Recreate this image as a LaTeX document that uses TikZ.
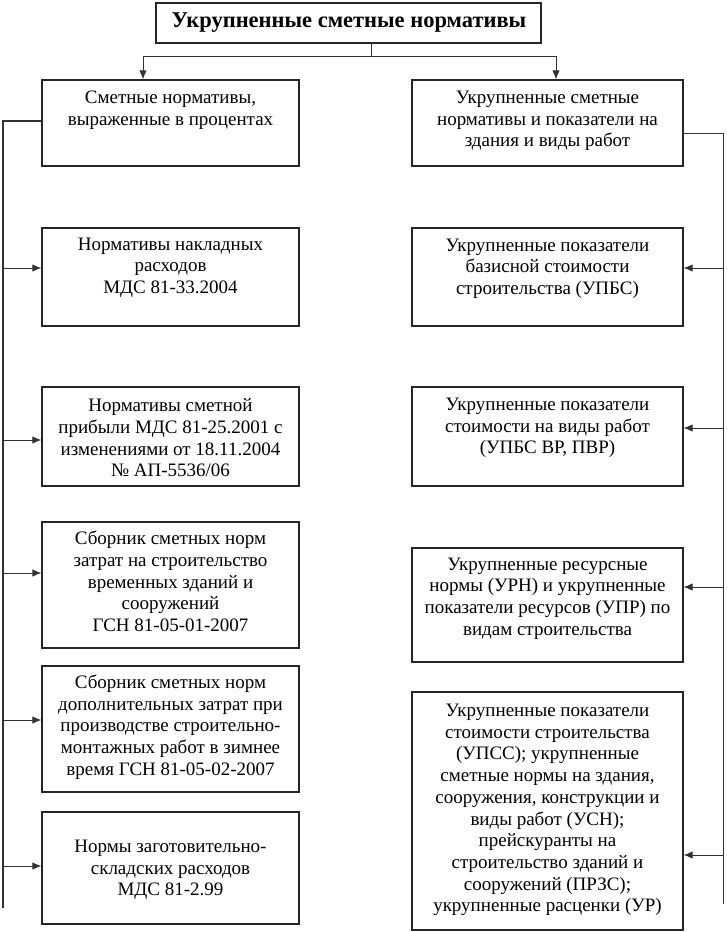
\documentclass[tikz,border=0pt]{standalone}
\usepackage{fontspec}
\setmainfont{Liberation Serif}
\usetikzlibrary{arrows.meta}
\tikzset{
  box/.style={draw=black!85, line width=1.2pt, rectangle, inner sep=0pt},
  txt/.style={align=center, inner sep=0pt, font=\fontsize{19}{21.7}\selectfont},
  ttl/.style={align=center, inner sep=0pt, font=\fontsize{22.5}{24}\selectfont\bfseries},
  conn/.style={draw=black!80, line width=1pt},
  arr/.style={conn, -{Latex[length=9pt,width=7.5pt]}},
}
\begin{document}
\begin{tikzpicture}[x=1pt,y=-1pt]
\useasboundingbox (0,0) rectangle (726,932);
% top
\node[box, minimum width=385pt, minimum height=40pt] (T) at (348.5,23) {};
\node[ttl] (Tt) at (349,23) {Укрупненные сметные нормативы};
% left column
\node[box, minimum width=257pt, minimum height=86pt] (L1) at (170.5,123) {};
\node[txt] (L1t) at (170.5,110.5) {Сметные нормативы,\\выраженные в процентах};
\node[box, minimum width=257pt, minimum height=98pt] (L2) at (170.5,277) {};
\node[txt] (L2t) at (170.5,267.5) {Нормативы накладных\\расходов\\МДС 81-33.2004};
\node[box, minimum width=257pt, minimum height=99pt] (L3) at (170.5,436.5) {};
\node[txt] (L3t) at (170.5,438) {Нормативы сметной\\прибыли МДС 81-25.2001 с\\изменениями от 18.11.2004\\№ АП-5536/06};
\node[box, minimum width=257pt, minimum height=126pt] (L4) at (170.5,585) {};
\node[txt] (L4t) at (170.5,581.5) {Сборник сметных норм\\затрат на строительство\\временных зданий и\\сооружений\\ГСН 81-05-01-2007};
\node[box, minimum width=257pt, minimum height=126pt] (L5) at (170.5,729) {};
\node[txt] (L5t) at (170.5,727) {Сборник сметных норм\\дополнительных затрат при\\производстве строительно-\\монтажных работ в зимнее\\время ГСН 81-05-02-2007};
\node[box, minimum width=257pt, minimum height=112pt] (L6) at (170.5,868) {};
\node[txt] (L6t) at (170.5,870) {Нормы заготовительно-\\складских расходов\\МДС 81-2.99};
% right column
\node[box, minimum width=271pt, minimum height=86pt] (R1) at (547.5,123) {};
\node[txt] (R1t) at (547.5,121) {Укрупненные сметные\\нормативы и показатели на\\здания и виды работ};
\node[box, minimum width=271pt, minimum height=98pt] (R2) at (547.5,277) {};
\node[txt] (R2t) at (547.5,268.5) {Укрупненные показатели\\базисной стоимости\\строительства (УПБС)};
\node[box, minimum width=271pt, minimum height=99pt] (R3) at (547.5,436.5) {};
\node[txt] (R3t) at (547.5,428) {Укрупненные показатели\\стоимости на виды работ\\(УПБС ВР, ПВР)};
\node[box, minimum width=271pt, minimum height=114pt] (R4) at (547.5,605) {};
\node[txt] (R4t) at (547.5,598.5) {Укрупненные ресурсные\\нормы (УРН) и укрупненные\\показатели ресурсов (УПР) по\\видам строительства};
\node[box, minimum width=271pt, minimum height=238pt] (R5) at (547.5,811) {};
\node[txt] (R5t) at (547.5,810) {Укрупненные показатели\\стоимости строительства\\(УПСС); укрупненные\\сметные нормы на здания,\\сооружения, конструкции и\\виды работ (УСН);\\прейскуранты на\\строительство зданий и\\сооружений (ПРЗС);\\укрупненные расценки (УР)};
% top connectors
\coordinate (tj) at (371,56);
\coordinate (hl) at (143,56);
\coordinate (hr) at (556,56);
\draw[conn] (tj |- T.south) -- (tj);
\draw[conn] (hl) -- (hr);
\draw[arr] (hl) -- (hl |- L1.north);
\draw[arr] (hr) -- (hr |- R1.north);
% left trunk
\coordinate (lt0) at (3,121);
\coordinate (lt1) at (3,908);
\draw[conn, line width=1.4pt] (lt0 -| L1.west) -- (lt0) -- (lt1);
\coordinate (la2) at (3,268);
\coordinate (la3) at (3,440);
\coordinate (la4) at (3,573);
\coordinate (la5) at (3,720);
\coordinate (la6) at (3,866);
\draw[arr] (la2) -- (la2 -| L2.west);
\draw[arr] (la3) -- (la3 -| L3.west);
\draw[arr] (la4) -- (la4 -| L4.west);
\draw[arr] (la5) -- (la5 -| L5.west);
\draw[arr] (la6) -- (la6 -| L6.west);
% right trunk
\coordinate (rt0) at (723,133);
\coordinate (rt1) at (723,904);
\draw[conn] (rt0 -| R1.east) -- (rt0) -- (rt1);
\coordinate (ra2) at (723,268);
\coordinate (ra3) at (723,428);
\coordinate (ra4) at (723,587);
\coordinate (ra5) at (723,855);
\draw[arr] (ra2) -- (ra2 -| R2.east);
\draw[arr] (ra3) -- (ra3 -| R3.east);
\draw[arr] (ra4) -- (ra4 -| R4.east);
\draw[arr] (ra5) -- (ra5 -| R5.east);
\end{tikzpicture}
\end{document}
